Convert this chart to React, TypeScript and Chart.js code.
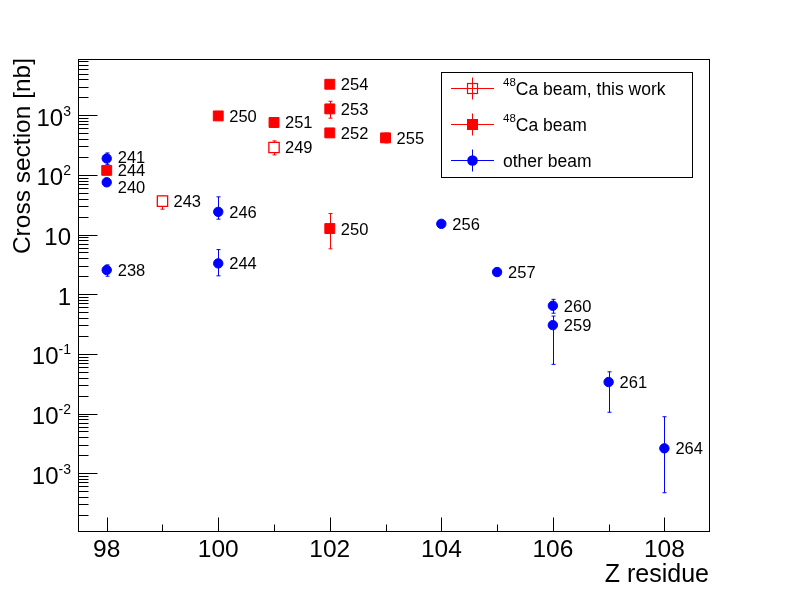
import React, { useEffect, useRef } from "react";
import { Chart, registerables } from "chart.js";

Chart.register(...registerables);

// ---------- data ----------
// 48Ca beam, this work (open squares)
const thisWorkZ = [99, 101];
const thisWorkSigma = [36.3, 288];
const thisWorkHi = [44, 371];
const thisWorkLo = [26.6, 216];
const thisWorkLabels = ["243", "249"];

// 48Ca beam (filled squares)
const caZ = [98, 100, 101, 102, 102, 102, 103, 102];
const caSigma = [119, 973, 755, 3300, 1276, 505, 417, 12.6];
const caHi = [135, 973, 900, 3300, 1714, 505, 500, 22.5];
const caLo = [105, 973, 630, 3300, 891, 505, 344, 5.75];
const caLabels = ["244", "250", "251", "254", "253", "252", "255", "250"];

// other beam (filled circles)
const otherZ = [98, 98, 98, 100, 100, 104, 105, 106, 106, 107, 108];
const otherSigma = [188, 75, 2.54, 24, 3.28, 15.1, 2.35, 0.64, 0.303, 0.0337, 0.00261];
const otherHi = [233, 75, 3.1, 42.8, 5.6, 15.1, 2.35, 0.82, 0.43, 0.05, 0.00883];
const otherLo = [150, 75, 2.0, 18.1, 2.03, 15.1, 2.35, 0.48, 0.0667, 0.0105, 0.00047];
const otherLabels = ["241", "240", "238", "246", "244", "256", "257", "260", "259", "261", "264"];

// axis ticks
const xMajorTicks = [98, 100, 102, 104, 106, 108];
const xMinorTicks = [99, 101, 103, 105, 107];
const yDecades = [-3, -2, -1, 0, 1, 2, 3];

// legend
const legendSup = ["48", "48", ""];
const legendText = ["Ca beam, this work", "Ca beam", "other beam"];

// titles
const xTitle = "Z residue";
const yTitle = "Cross section [nb]";

// ---------- layout / style (not data) ----------
const FONT = "'Liberation Sans', Arial, Helvetica, sans-serif";
const RED = "#ff0000";
const BLUE = "#0000ff";
const otherLabelDy = [-2, 5, 0, 0, 0, 0, 0, 0, 0, 0, 0];

const series = [
  { z: thisWorkZ, v: thisWorkSigma, hi: thisWorkHi, lo: thisWorkLo, labels: thisWorkLabels, color: RED, dy: thisWorkZ.map(() => 0) },
  { z: caZ, v: caSigma, hi: caHi, lo: caLo, labels: caLabels, color: RED, dy: caZ.map(() => 0) },
  { z: otherZ, v: otherSigma, hi: otherHi, lo: otherLo, labels: otherLabels, color: BLUE, dy: otherLabelDy },
];

const rootPlugin = {
  id: "rootStyle",
  beforeDatasetsDraw(chart: any) {
    const ctx = chart.ctx;
    const xs = chart.scales.x;
    const ys = chart.scales.y;
    ctx.save();
    ctx.lineWidth = 1;
    series.forEach((s) => {
      ctx.strokeStyle = s.color;
      s.z.forEach((z, i) => {
        const px = Math.round(xs.getPixelForValue(z)) + 0.5;
        const yh = ys.getPixelForValue(s.hi[i]);
        const yl = ys.getPixelForValue(s.lo[i]);
        if (Math.abs(yl - yh) < 1) return;
        ctx.beginPath();
        ctx.moveTo(px, yh);
        ctx.lineTo(px, yl);
        ctx.moveTo(px - 2, yh);
        ctx.lineTo(px + 2, yh);
        ctx.moveTo(px - 2, yl);
        ctx.lineTo(px + 2, yl);
        ctx.stroke();
      });
    });
    ctx.restore();
  },
  afterDraw(chart: any) {
    const ctx = chart.ctx;
    const xs = chart.scales.x;
    const ys = chart.scales.y;
    const a = chart.chartArea;
    ctx.save();

    // frame
    ctx.strokeStyle = "#000";
    ctx.lineWidth = 1;
    ctx.strokeRect(Math.round(a.left) + 0.5, Math.round(a.top) + 0.5, Math.round(a.right - a.left), Math.round(a.bottom - a.top));

    // x ticks (inward)
    const yb = Math.round(a.bottom) + 0.5;
    ctx.beginPath();
    xMajorTicks.forEach((t) => {
      const px = Math.round(xs.getPixelForValue(t)) + 0.5;
      ctx.moveTo(px, yb);
      ctx.lineTo(px, yb - 14);
    });
    xMinorTicks.forEach((t) => {
      const px = Math.round(xs.getPixelForValue(t)) + 0.5;
      ctx.moveTo(px, yb);
      ctx.lineTo(px, yb - 7);
    });
    // y ticks (inward)
    const xl = Math.round(a.left) + 0.5;
    const yMin = ys.min;
    const yMax = ys.max;
    for (let n = -5; n <= 4; n++) {
      for (let k = 1; k <= 9; k++) {
        const v = k * Math.pow(10, n);
        if (v < yMin || v > yMax) continue;
        const py = Math.round(ys.getPixelForValue(v)) + 0.5;
        ctx.moveTo(xl, py);
        ctx.lineTo(xl + (k === 1 ? 19 : 10), py);
      }
    }
    ctx.stroke();

    // x tick labels
    ctx.fillStyle = "#000";
    ctx.font = `24.5px ${FONT}`;
    ctx.textAlign = "center";
    ctx.textBaseline = "alphabetic";
    xMajorTicks.forEach((t) => {
      ctx.fillText(String(t), xs.getPixelForValue(t), 556.5);
    });

    // y tick labels
    const rightX = a.left - 7;
    yDecades.forEach((n) => {
      const py = ys.getPixelForValue(Math.pow(10, n));
      const base = n === 0 ? "1" : "10";
      const exp = n === 0 || n === 1 ? "" : String(n);
      ctx.font = `14px ${FONT}`;
      const we = exp ? ctx.measureText(exp).width : 0;
      ctx.font = `24px ${FONT}`;
      const wb = ctx.measureText(base).width;
      ctx.textAlign = "left";
      const bx = rightX - we - wb;
      const baseY = py + 10.5;
      ctx.fillText(base, bx, baseY);
      if (exp) {
        ctx.font = `14px ${FONT}`;
        ctx.fillText(exp, bx + wb, baseY - 10);
      }
    });

    // axis titles
    ctx.font = `25px ${FONT}`;
    ctx.textAlign = "right";
    ctx.fillText(xTitle, a.right, 582);
    ctx.save();
    ctx.translate(30, a.top - 1);
    ctx.rotate(-Math.PI / 2);
    ctx.font = `24.5px ${FONT}`;
    ctx.textAlign = "right";
    ctx.fillText(yTitle, 0, 0);
    ctx.restore();

    // point labels
    ctx.font = `16.5px ${FONT}`;
    ctx.textAlign = "left";
    ctx.fillStyle = "#000";
    series.forEach((s) => {
      s.z.forEach((z, i) => {
        const px = xs.getPixelForValue(z);
        const py = ys.getPixelForValue(s.v[i]);
        ctx.fillText(s.labels[i], px + 11, py + 6 + s.dy[i]);
      });
    });

    // legend
    const lx0 = 441, ly0 = 72, lx1 = 692, ly1 = 177;
    ctx.fillStyle = "#fff";
    ctx.fillRect(lx0, ly0, lx1 - lx0, ly1 - ly0);
    ctx.strokeStyle = "#000";
    ctx.lineWidth = 1;
    ctx.strokeRect(lx0 + 0.5, ly0 + 0.5, lx1 - lx0, ly1 - ly0);
    const rows = [88.5, 124.5, 160.5];
    const colors = [RED, RED, BLUE];
    rows.forEach((ry, i) => {
      const cx = 472.5;
      ctx.strokeStyle = colors[i];
      ctx.fillStyle = colors[i];
      ctx.lineWidth = 1;
      ctx.beginPath();
      ctx.moveTo(451, ry);
      ctx.lineTo(494, ry);
      ctx.moveTo(cx, ry - 11);
      ctx.lineTo(cx, ry + 11);
      ctx.stroke();
      if (i === 0) {
        ctx.lineWidth = 1.2;
        ctx.strokeRect(cx - 5, ry - 5, 10, 10);
      } else if (i === 1) {
        ctx.fillRect(cx - 5.5, ry - 5.5, 11, 11);
      } else {
        ctx.beginPath();
        ctx.arc(cx, ry, 5.3, 0, Math.PI * 2);
        ctx.fill();
      }
      // text
      ctx.fillStyle = "#000";
      ctx.textAlign = "left";
      let tx = 503;
      const baseY = ry + 6;
      if (legendSup[i]) {
        ctx.font = `11.5px ${FONT}`;
        ctx.fillText(legendSup[i], tx, baseY - 8.5);
        tx += ctx.measureText(legendSup[i]).width;
      }
      ctx.font = `17.5px ${FONT}`;
      ctx.fillText(legendText[i], tx, baseY);
    });

    ctx.restore();
  },
};

export default function App() {
  const canvasRef = useRef<HTMLCanvasElement | null>(null);

  useEffect(() => {
    const canvas = canvasRef.current;
    if (!canvas) return;
    const toPts = (zs: number[], vs: number[]) => zs.map((z, i) => ({ x: z, y: vs[i] }));
    const chart = new Chart(canvas, {
      type: "scatter",
      data: {
        datasets: [
          {
            label: "this work",
            data: toPts(thisWorkZ, thisWorkSigma),
            pointStyle: "rect",
            pointRadius: 7.3,
            borderWidth: 1.3,
            borderColor: RED,
            backgroundColor: "#ffffff",
          },
          {
            label: "48Ca beam",
            data: toPts(caZ, caSigma),
            pointStyle: "rect",
            pointRadius: 7,
            borderWidth: 1,
            borderColor: RED,
            backgroundColor: RED,
          },
          {
            label: "other beam",
            data: toPts(otherZ, otherSigma),
            pointStyle: "circle",
            pointRadius: 4.7,
            borderWidth: 1,
            borderColor: BLUE,
            backgroundColor: BLUE,
          },
        ],
      },
      options: {
        animation: false,
        responsive: false,
        devicePixelRatio: 1,
        events: [],
        layout: { padding: { left: 78, top: 59, right: 79, bottom: 60 } },
        plugins: { legend: { display: false }, tooltip: { enabled: false } },
        scales: {
          x: { type: "linear", min: 97.485, max: 108.8, display: false },
          y: { type: "logarithmic", min: 1.074e-4, max: 8750, display: false },
        },
      },
      plugins: [rootPlugin],
    });
    return () => chart.destroy();
  }, []);

  return (
    <div style={{ position: "absolute", left: 0, top: 0, width: 788, height: 591, background: "#fff" }}>
      <canvas ref={canvasRef} width={788} height={591} style={{ width: 788, height: 591 }} />
    </div>
  );
}
